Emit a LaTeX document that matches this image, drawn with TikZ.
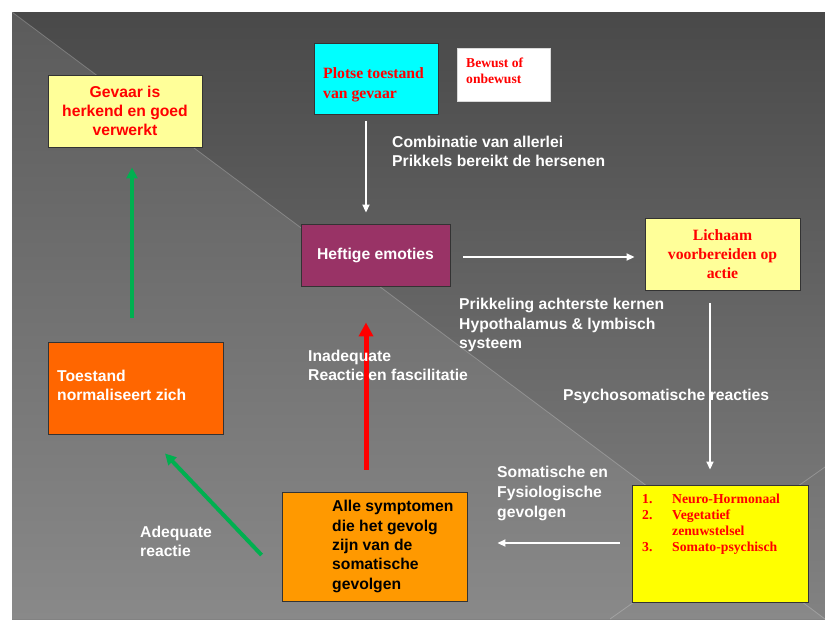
\documentclass[tikz,border=0pt]{standalone}
\usepackage{fontspec}
\setmainfont{Liberation Sans}
\newfontfamily\tnr{Liberation Serif}
\usetikzlibrary{arrows.meta,calc}
\definecolor{slidetop}{HTML}{494949}
\definecolor{slidebot}{HTML}{828282}
\definecolor{tritop}{HTML}{5B5B5B}
\definecolor{tribot}{HTML}{898989}
\definecolor{paleyellow}{HTML}{FFFF99}
\definecolor{cyanbox}{HTML}{00FFFF}
\definecolor{plum}{HTML}{993366}
\definecolor{yellowbox}{HTML}{FFFF00}
\definecolor{orangebox}{HTML}{FF9900}
\definecolor{darkorange}{HTML}{FF6600}
\definecolor{arrowgreen}{HTML}{00B050}
\definecolor{redtext}{HTML}{FF0000}
\tikzset{
  box/.style={draw=black!80, line width=0.9pt, inner sep=0pt, align=center},
  lbl/.style={text=white, anchor=north west, align=left, inner sep=0pt,
    font={\fontsize{15.7}{19}\selectfont\bfseries}},
  boxtxt/.style={anchor=north west, align=left, inner sep=0pt},
  warrow/.style={draw=white, line width=1.8pt, -{Triangle[length=8pt,width=7pt]}},
  rarrow/.style={draw=red, line width=5pt, -{Triangle[length=14pt,width=14pt]}},
  garrow/.style={draw=arrowgreen, line width=4pt, -{Triangle[length=11pt,width=11pt]}},
}
\begin{document}
\begin{tikzpicture}[x=1pt,y=-1pt]
\useasboundingbox (0,0) rectangle (825,619);
\fill[white] (0,0) rectangle (825,619);
% slide background
\shade[top color=slidetop, bottom color=slidebot] (12,12) rectangle (825,619);
\shade[top color=tritop, bottom color=tribot] (12,12) -- (12,619) -- (825,619) -- cycle;
\draw[white, opacity=0.22, line width=0.8pt] (12,12) -- (825,619);
\draw[white, opacity=0.22, line width=0.8pt] (610,619) -- (825,467);

% boxes
\node[box, fill=paleyellow, text=redtext, minimum width=154, minimum height=72,
  font={\fontsize{15.7}{19}\selectfont\bfseries}] (gevaar) at (125,111)
  {Gevaar is\\herkend en goed\\verwerkt};
\node[box, fill=cyanbox, minimum width=124, minimum height=71] (plotse) at (376,78.5) {};
\node[boxtxt, text=redtext, font={\tnr\fontsize{15.7}{20}\selectfont\bfseries}] (plotsetxt)
  at (323,67.5) {Plotse toestand\\van gevaar};
\node[box, draw=white!85!black, line width=0.5pt, fill=white, minimum width=93, minimum height=53] (bewust) at (503.5,74.5) {};
\node[boxtxt, text=redtext, font={\tnr\fontsize{13.6}{16}\selectfont\bfseries}] (bewusttxt)
  at (466,57.3) {Bewust of\\onbewust};
\node[box, fill=plum, text=white, minimum width=149, minimum height=62,
  font={\fontsize{15.7}{19}\selectfont\bfseries}] (heftige) at (375.5,255) {Heftige emoties};
\node[box, fill=paleyellow, text=redtext, minimum width=155, minimum height=72,
  font={\tnr\fontsize{15.7}{19}\selectfont\bfseries}] (lichaam) at (722.5,254)
  {Lichaam\\voorbereiden op\\actie};
\node[box, fill=yellowbox, minimum width=176, minimum height=117] (lijst) at (720,543.5) {};
\node[boxtxt, text=redtext, font={\tnr\fontsize{13.7}{16.3}\selectfont\bfseries}] (lijsttxt)
  at (642,493.3) {\makebox[30pt][l]{1.}Neuro-Hormonaal\\
  \makebox[30pt][l]{2.}Vegetatief\\
  \hspace*{30pt}zenuwstelsel\\
  \makebox[30pt][l]{3.}Somato-psychisch};
\node[box, fill=orangebox, minimum width=185, minimum height=109] (alle) at (374.5,546.5) {};
\node[boxtxt, text=black, font={\fontsize{15.7}{19.3}\selectfont\bfseries}] (alletxt)
  at (332,500.3) {Alle symptomen\\die het gevolg\\zijn van de\\somatische\\gevolgen};
\node[box, fill=darkorange, minimum width=175, minimum height=92] (toestand) at (135.5,388) {};
\node[boxtxt, text=white, font={\fontsize{15.7}{18.5}\selectfont\bfseries}] (toestandtxt)
  at (57,370.3) {Toestand\\normaliseert zich};

% connectors
\draw[warrow] ($(plotse.south)+(-10,7)$) -- ($(heftige.north)+(-9.5,-11)$);
\draw[warrow] ($(heftige.east)+(13,2)$) -- ($(lichaam.west)+(-10,3)$);
\draw[warrow] ($(lichaam.south)+(-12.5,13)$) -- ($(lijst.north)+(-10,-15)$);
\draw[warrow] ($(lijst.west)+(-12,-0.5)$) -- ($(alle.east)+(30,-3.5)$);
\draw[rarrow] ($(alle.north)+(-8.5,-22)$) -- ($(heftige.south)+(-9.5,36)$);
\draw[garrow] ($(alle.west)+(-20,8.5)$) -- ($(toestand.south)+(29.5,19)$);
\draw[garrow] ($(toestand.north)+(-3.5,-24)$) -- ($(gevaar.south)+(7,20)$);

% free labels
\node[lbl] (combi) at (392,136.3) {Combinatie van allerlei\\Prikkels bereikt de hersenen};
\node[lbl, font={\fontsize{15.7}{19.5}\selectfont\bfseries}] (prikkel) at (459,298.3)
  {Prikkeling achterste kernen\\Hypothalamus \& lymbisch\\systeem};
\node[lbl] (psycho) at (563,389.3) {Psychosomatische reacties};
\node[lbl, font={\fontsize{15.7}{20}\selectfont\bfseries}] (somat) at (497,466.3)
  {Somatische en\\Fysiologische\\gevolgen};
\node[lbl] (inadeq) at (308,350.3) {Inadequate\\Reactie en fascilitatie};
\node[lbl, font={\fontsize{15.7}{18.5}\selectfont\bfseries}] (adeq) at (140,526.3) {Adequate\\reactie};
\end{tikzpicture}
\end{document}
